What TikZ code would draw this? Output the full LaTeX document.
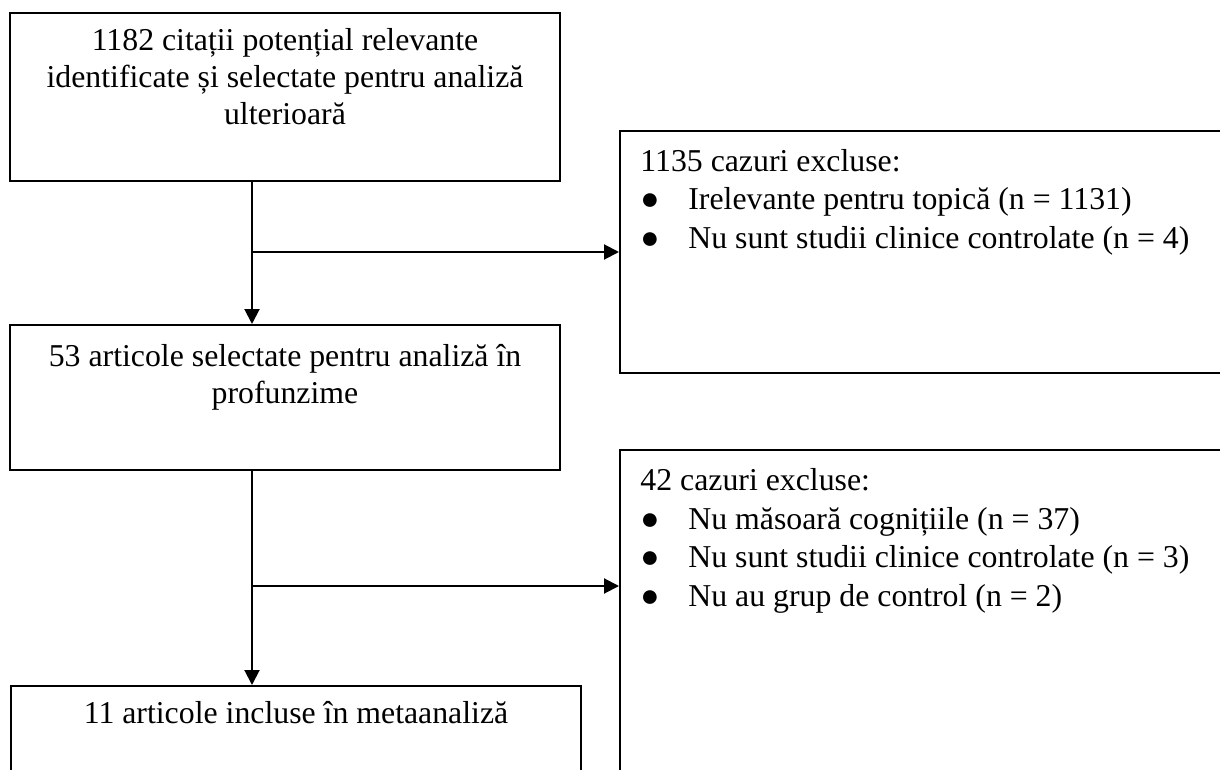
\documentclass[tikz,border=0pt]{standalone}
\usepackage{fontspec}
\setmainfont{Liberation Serif}
\usetikzlibrary{positioning,arrows.meta}

\tikzstyle{blk}=[draw, line width=1pt, anchor=north west, inner sep=0pt]
\tikzstyle{arr}=[black, line width=1pt, draw, -{Triangle[length=7.5pt,width=7.5pt]}]
\tikzstyle{mid}=[inner sep=0pt, align=center, font=\fontsize{15.9pt}{18.5pt}\selectfont]
\tikzstyle{lst}=[inner sep=0pt, align=left, font=\fontsize{15.9pt}{19.3pt}\selectfont]
\newcommand{\itm}{\makebox[24pt][l]{●}}

\begin{document}
\begin{tikzpicture}[x=0.5pt, y=-0.5pt]
  \useasboundingbox (0,0) rectangle (1220,770);

  \node[blk, minimum width=275pt, minimum height=84pt] (cit) at (9,12) {};
  \node[blk, minimum width=275pt, minimum height=72.5pt] (art) at (9,324) {};
  \node[blk, minimum width=285pt, minimum height=60pt] (inc) at (10,685) {};
  \node[blk, minimum width=350pt, minimum height=120.75pt] (exc1) at (619,130.5) {};
  \node[blk, minimum width=350pt, minimum height=200pt] (exc2) at (619,449) {};

  \node[mid, below=8.1pt of cit.north] (citt) {1182 citații potențial relevante\\identificate și selectate pentru analiză\\ulterioară};
  \node[mid, below=10.2pt of art.north] (artt) {53 articole selectate pentru analiză în\\profunzime};
  \node[mid, below=8.2pt of inc.north] (inct) {11 articole incluse în metaanaliză};
  \node[lst, below right=9.1pt and 10.5pt of exc1.north west] (ex1t) {1135 cazuri excluse:\\
    \itm Irelevante pentru topică (n = 1131)\\
    \itm Nu sunt studii clinice controlate (n = 4)};
  \node[lst, below right=9.6pt and 10.5pt of exc2.north west] (ex2t) {42 cazuri excluse:\\
    \itm Nu măsoară cognițiile (n = 37)\\
    \itm Nu sunt studii clinice controlate (n = 3)\\
    \itm Nu au grup de control (n = 2)};

  \coordinate (j1) at (252,252);
  \coordinate (j2) at (252,586);
  \draw [arr] (cit.south -| j1) -- (art.north -| j1);
  \draw [arr] (j1) -- (j1 -| exc1.west);
  \draw [arr] (art.south -| j2) -- (inc.north -| j2);
  \draw [arr] (j2) -- (j2 -| exc2.west);
\end{tikzpicture}
\end{document}
